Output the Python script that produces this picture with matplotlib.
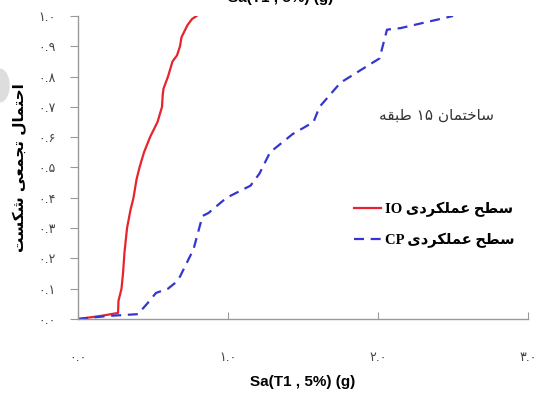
import matplotlib
matplotlib.use("Agg")
import matplotlib.pyplot as plt
from matplotlib.patches import Ellipse

# ---------------- data ----------------
io_x = [0.0, 0.15, 0.267, 0.27, 0.29, 0.30, 0.31, 0.327, 0.35, 0.37, 0.39, 0.41, 0.44, 0.48,
        0.53, 0.56, 0.565, 0.57, 0.60, 0.63, 0.66, 0.68, 0.69, 0.71, 0.73, 0.76, 0.79]
io_y = [0.0, 0.01, 0.02, 0.06, 0.10, 0.15, 0.22, 0.30, 0.36, 0.40, 0.46, 0.50, 0.55, 0.60,
        0.65, 0.70, 0.74, 0.76, 0.80, 0.85, 0.87, 0.90, 0.93, 0.95, 0.97, 0.99, 1.0]
cp_x = [0.0, 0.2, 0.40, 0.46, 0.52, 0.60, 0.65, 0.68, 0.77, 0.83, 0.87, 0.99, 1.15, 1.21,
        1.28, 1.43, 1.57, 1.61, 1.75, 1.88, 2.01, 2.06, 2.15, 2.5]
cp_y = [0.0, 0.01, 0.016, 0.05, 0.086, 0.10, 0.12, 0.14, 0.23, 0.34, 0.35, 0.40, 0.44, 0.48,
        0.55, 0.61, 0.65, 0.70, 0.78, 0.82, 0.86, 0.955, 0.96, 1.0]

x_ticks = [0.0, 1.0, 2.0, 3.0]
y_ticks = [0.0, 0.1, 0.2, 0.3, 0.4, 0.5, 0.6, 0.7, 0.8, 0.9, 1.0]

label_io = "سطح عملکردی IO"
label_cp = "سطح عملکردی CP"
annot = "ساختمان ۱۵ طبقه"
ylabel = "احتمال تجمعی شکست"
xlabel = "Sa(T1 , 5%) (g)"

# ------------- minimal Persian shaping -------------
FORMS = {  # iso, fin, ini, med
    'ا': ('\uFE8D', '\uFE8E', None, None),
    'ب': ('\uFE8F', '\uFE90', '\uFE91', '\uFE92'),
    'ت': ('\uFE95', '\uFE96', '\uFE97', '\uFE98'),
    'ج': ('\uFE9D', '\uFE9E', '\uFE9F', '\uFEA0'),
    'ح': ('\uFEA1', '\uFEA2', '\uFEA3', '\uFEA4'),
    'خ': ('\uFEA5', '\uFEA6', '\uFEA7', '\uFEA8'),
    'د': ('\uFEA9', '\uFEAA', None, None),
    'ر': ('\uFEAD', '\uFEAE', None, None),
    'س': ('\uFEB1', '\uFEB2', '\uFEB3', '\uFEB4'),
    'ش': ('\uFEB5', '\uFEB6', '\uFEB7', '\uFEB8'),
    'ط': ('\uFEC1', '\uFEC2', '\uFEC3', '\uFEC4'),
    'ع': ('\uFEC9', '\uFECA', '\uFECB', '\uFECC'),
    'ق': ('\uFED5', '\uFED6', '\uFED7', '\uFED8'),
    'ک': ('\uFB8E', '\uFB8F', '\uFB90', '\uFB91'),
    'ل': ('\uFEDD', '\uFEDE', '\uFEDF', '\uFEE0'),
    'م': ('\uFEE1', '\uFEE2', '\uFEE3', '\uFEE4'),
    'ن': ('\uFEE5', '\uFEE6', '\uFEE7', '\uFEE8'),
    'ه': ('\uFEE9', '\uFEEA', '\uFEEB', '\uFEEC'),
    'ی': ('\uFBFC', '\uFBFD', '\uFBFE', '\uFBFF'),
}


def shape_word(w):
    out = []
    n = len(w)
    for i, c in enumerate(w):
        if c not in FORMS:
            out.append(c)
            continue
        prev_joins = i > 0 and w[i - 1] in FORMS and FORMS[w[i - 1]][2] is not None
        next_joins = i < n - 1 and w[i + 1] in FORMS and FORMS[c][2] is not None
        iso, fin, ini, med = FORMS[c]
        if prev_joins and next_joins:
            out.append(med)
        elif prev_joins:
            out.append(fin)
        elif next_joins:
            out.append(ini)
        else:
            out.append(iso)
    return ''.join(out)


def rtl(s):
    words = s.split(' ')
    vis = []
    for w in reversed(words):
        if any(ch in FORMS for ch in w):
            vis.append(shape_word(w)[::-1])
        else:
            vis.append(w)
    return ' '.join(vis)


def fa_num(v):
    d = '۰۱۲۳۴۵۶۷۸۹'
    s = f"{v:.1f}"
    return ''.join(d[int(ch)] if ch.isdigit() else ch for ch in s)


# ---------------- figure ----------------
fig = plt.figure(figsize=(5.39, 3.98), dpi=100)
ax = fig.add_axes([0.1447, 0.1985, 0.8349, 0.7613])

ax.plot(io_x, io_y, color='#e8232b', lw=1.6, label=rtl(label_io))
ax.plot(cp_x, cp_y, color='#3535cf', lw=1.6, ls=(0, (4.5, 3)), label=rtl(label_cp))

ax.set_xlim(0, 3.0)
ax.set_ylim(0, 1.0)
ax.set_xticks(x_ticks)
ax.set_xticklabels([fa_num(v) for v in x_ticks], family=['DejaVu Sans'], fontsize=9, color='#444444')
ax.set_yticks(y_ticks)
ax.set_yticklabels([fa_num(v) for v in y_ticks], family=['DejaVu Sans'], fontsize=9, color='#444444')

ax.tick_params(axis='x', direction='in', length=5, pad=23, color='#999999')
ax.tick_params(axis='y', direction='out', length=6, pad=10, color='#999999')
for s in ['top', 'right']:
    ax.spines[s].set_visible(False)
for s in ['left', 'bottom']:
    ax.spines[s].set_color('#999999')
    ax.spines[s].set_linewidth(1.0)

ax.set_xlabel(xlabel, family=['Liberation Sans'], fontweight='bold', fontsize=11, labelpad=8)
ax.set_ylabel(rtl(ylabel), family=['DejaVu Sans'], fontweight='bold', fontsize=11, labelpad=8)

ax.text(2.39, 0.673, rtl(annot), family=['DejaVu Sans'], fontsize=11, color='#333333',
        ha='center', va='center')

leg = ax.legend(loc='upper left', bbox_to_anchor=(0.585, 0.43), frameon=False,
                handlelength=1.8, handletextpad=0.3, labelspacing=1.05,
                prop={'family': ['Liberation Serif', 'DejaVu Sans'], 'weight': 'bold', 'size': 10.5})

# clipped title at the top edge (also clipped in the reference)
fig.text(0.52, 1.005, xlabel, family=['Liberation Sans'], fontweight='bold', fontsize=11,
         ha='center', va='center')

# grey artifact at left edge
fig.patches.append(Ellipse((0.0, 0.785), 0.036, 0.085, transform=fig.transFigure,
                           facecolor='#dddddd', edgecolor='none', zorder=0))

fig.savefig('out.png', dpi=100)
